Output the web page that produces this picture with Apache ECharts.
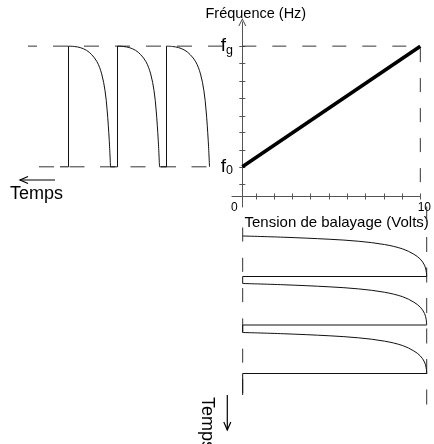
<!DOCTYPE html>
<html>
<head>
<meta charset="utf-8">
<script src="https://cdn.jsdelivr.net/npm/echarts@6/dist/echarts.min.js"></script>
<style>
  html, body { margin: 0; padding: 0; background: #fff; }
  #chart { width: 434px; height: 444px; }
</style>
</head>
<body>
<div id="chart"></div>
<script>
// frequency levels (axis units, 1 unit = one y tick)
const fLow = 1.72;   // f0
const fHigh = 8.72;  // fg
const vMax = 10;     // sweep voltage, volts

const xTickValues = [0.76, 1.79, 2.82, 3.84, 4.87, 5.9, 6.92, 7.95, 8.98, 10];
const yTickValues = [0.72, 1.72, 2.7, 3.7, 4.68, 5.69, 6.71, 7.72, 8.72];
const xLabelValues = [0, 10];
const yLabelValues = [fLow, fHigh];

// one sweep: [time fraction, level fraction]
const sweepShape = [
  [0, 0], [0.03, 0.22], [0.08, 0.47], [0.13, 0.63], [0.21, 0.77], [0.32, 0.87],
  [0.45, 0.93], [0.57, 0.965], [0.72, 0.988], [0.86, 0.997], [1, 1]
];

// left panel: frequency against time (time runs to the left)
const leftSweeps = [[4.5, 13.1], [14.5, 22.9], [24.3, 32.7]];
const leftDeadEnd = [14.5, 24.3, 34.4];
const leftDashTop = [1.8, 40.8];
const leftDashBottom = [5.1, 38.9];

// bottom panel: sweep voltage against time (time runs down)
const bottomSweeps = [[7.2, 15.3], [16.7, 25.0], [26.5, 34.7]];
const bottomDeadEnd = [16.7, 26.5, 39.0];
const bottomDashLeft = [5.5, 39];
const bottomDashRight = [1.3, 41];

const ink = '#111';
const dashInk = '#333';
const font = '"Liberation Sans", Arial, sans-serif';

const chart = echarts.init(document.getElementById('chart'), null, { renderer: 'canvas' });

function line(xi, yi, data, style, smooth) {
  return {
    type: 'line', xAxisIndex: xi, yAxisIndex: yi, data: data,
    symbol: 'none', silent: true, smooth: smooth || false,
    lineStyle: Object.assign({ color: ink, width: 1 }, style)
  };
}

const series = [];
// main transfer line
series.push(line(0, 0, [[0, fLow], [vMax, fHigh]], { width: 3.6, color: '#000' }));
series.push(line(0, 0, [[0, fHigh], [vMax, fHigh], [vMax, 0]], { type: [14, 16], color: dashInk }));

// left panel
series.push(line(2, 2, [[leftDashTop[0], fHigh], [leftDashTop[1], fHigh]], { type: [15, 16], color: dashInk }));
series.push(line(2, 2, [[leftDashBottom[0], fLow], [leftDashBottom[1], fLow]], { type: [15, 15.5], color: dashInk }));
leftSweeps.forEach(function (sw, i) {
  const d = sweepShape.map(function (p) {
    return [sw[0] + p[0] * (sw[1] - sw[0]), fLow + p[1] * (fHigh - fLow)];
  });
  series.push(line(2, 2, d, {}, 0.35));
  series.push(line(2, 2, [[sw[1], fHigh], [sw[1], fLow], [leftDeadEnd[i], fLow]], {}));
});

// bottom panel
series.push(line(3, 3, [[0, bottomDashLeft[0]], [0, bottomDashLeft[1]]], { type: [14, 16.3], color: dashInk }));
series.push(line(3, 3, [[vMax, bottomDashRight[0]], [vMax, bottomDashRight[1]]], { type: [15, 15.5], color: dashInk }));
bottomSweeps.forEach(function (sw, i) {
  const d = sweepShape.map(function (p) {
    return [p[1] * vMax, sw[0] + p[0] * (sw[1] - sw[0])];
  });
  series.push(line(3, 3, d, {}, 0.35));
  series.push(line(3, 3, [[vMax, sw[1]], [0, sw[1]], [0, bottomDeadEnd[i]]], {}));
});

const axisCol = '#555';
const hidden = { show: false };

chart.setOption({
  animation: false,
  backgroundColor: '#fff',
  textStyle: { fontFamily: font },
  grid: [
    { left: 232, right: 7.3, top: 22, bottom: 237 },
    { left: 2, right: 202, top: 22, bottom: 237 },
    { left: 232, right: 7.3, top: 200, bottom: 34 }
  ],
  xAxis: [
    {
      type: 'value', gridIndex: 0, min: -0.58, max: vMax, position: 'bottom',
      name: 'Tension de balayage (Volts)', nameLocation: 'middle', nameGap: 8,
      nameTextStyle: { fontSize: 15, color: '#000', padding: [0, 0, 0, 21], fontFamily: font },
      axisLine: { onZero: true, lineStyle: { color: axisCol, width: 1 } },
      axisTick: { show: true, length: 3, customValues: xTickValues, lineStyle: { color: axisCol } },
      axisLabel: {
        customValues: xLabelValues, margin: -5, color: '#000', fontSize: 12, fontFamily: font,
        formatter: function (v) { return v === 0 ? '{z|0}' : '{t|10}'; },
        rich: { z: { padding: [0, 16, 0, 0], fontSize: 12 }, t: { padding: [0, 0, 0, 8], fontSize: 12 } }
      },
      splitLine: hidden
    },
    {
      type: 'value', gridIndex: 0, min: -0.58, max: vMax, position: 'bottom',
      axisLine: { show: false, onZero: true },
      axisTick: { show: true, inside: true, length: 3, customValues: xTickValues, lineStyle: { color: axisCol } },
      axisLabel: hidden, splitLine: hidden
    },
    { type: 'value', gridIndex: 1, min: 0, max: 46, inverse: true, show: false, splitLine: hidden },
    { type: 'value', gridIndex: 2, min: -0.58, max: vMax, show: false, splitLine: hidden }
  ],
  yAxis: [
    {
      type: 'value', gridIndex: 0, min: -0.61, max: 10.12, position: 'left',
      name: 'Fréquence (Hz)', nameLocation: 'end', nameGap: 1,
      nameTextStyle: { fontSize: 14.5, color: '#000', align: 'center', padding: [0, 0, 0, 27], fontFamily: font },
      axisLine: {
        onZero: true, lineStyle: { color: axisCol, width: 1 },
        symbol: ['none', 'path://M0,10 L5,0 L10,10 L8.6,10 L5,2.6 L1.4,10 Z'], symbolSize: [8, 8]
      },
      axisTick: { show: true, length: 3, customValues: yTickValues, lineStyle: { color: axisCol } },
      axisLabel: {
        customValues: yLabelValues, margin: -1, color: '#000', fontFamily: font,
        formatter: function (v) { return v === fLow ? '{f|f}{s|0}' : '{f|f}{s|g}'; },
        rich: {
          f: { fontSize: 19, lineHeight: 21, color: '#000' },
          s: { fontSize: 12.5, lineHeight: 14, verticalAlign: 'bottom', color: '#000' }
        }
      },
      splitLine: hidden
    },
    {
      type: 'value', gridIndex: 0, min: -0.61, max: 10.12, position: 'left',
      axisLine: { show: false, onZero: true },
      axisTick: { show: true, inside: true, length: 3, customValues: yTickValues, lineStyle: { color: axisCol } },
      axisLabel: hidden, splitLine: hidden
    },
    { type: 'value', gridIndex: 1, min: -0.61, max: 10.12, show: false, splitLine: hidden },
    { type: 'value', gridIndex: 2, min: 0, max: 42, inverse: true, show: false, splitLine: hidden }
  ],
  graphic: [
    { type: 'text', left: 10, top: 185, style: { text: 'Temps', font: '18px ' + font, fill: '#000' } },
    { type: 'line', shape: { x1: 20, y1: 180, x2: 55, y2: 180 }, style: { stroke: '#000', lineWidth: 1.2 } },
    { type: 'polyline', shape: { points: [[28, 176.5], [20, 180], [28, 183.5]] }, style: { stroke: '#000', lineWidth: 1.2, fill: null } },
    {
      type: 'text', x: 207, y: 397, rotation: -Math.PI / 2,
      style: { x: 0, y: 0, text: 'Temps', font: '18px ' + font, fill: '#000', align: 'left', verticalAlign: 'middle' }
    },
    { type: 'line', shape: { x1: 227.3, y1: 395, x2: 227.3, y2: 430 }, style: { stroke: '#000', lineWidth: 1.2 } },
    { type: 'polyline', shape: { points: [[223.8, 422], [227.3, 430], [230.8, 422]] }, style: { stroke: '#000', lineWidth: 1.2, fill: null } }
  ],
  series: series
});
</script>
</body>
</html>
